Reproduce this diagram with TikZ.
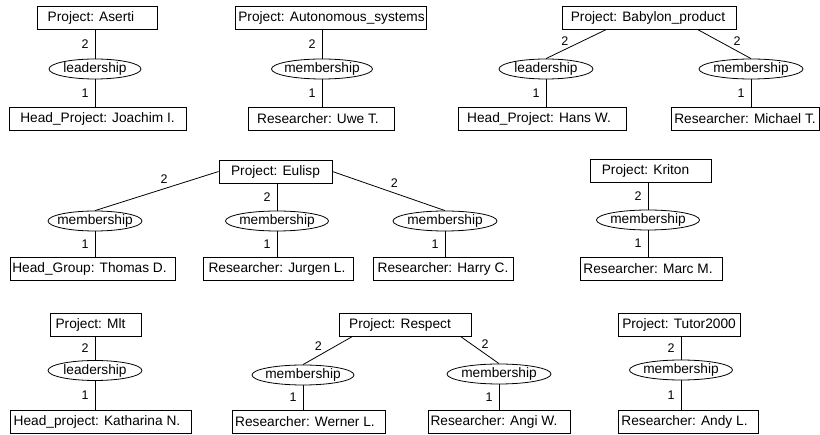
\documentclass[tikz,border=0pt]{standalone}
\usepackage{fontspec}
\setmainfont{Liberation Sans}
\usetikzlibrary{shapes.geometric}

\tikzset{
  ent/.style={draw, line width=0.8pt, minimum height=23pt, inner sep=0pt,
    font=\fontsize{13.7}{16}\selectfont},
  rel/.style={draw, ellipse, line width=0.8pt, minimum height=20pt, inner sep=0pt,
    font=\fontsize{13.7}{16}\selectfont},
  link/.style={line width=0.8pt},
  num/.style={inner sep=0pt, font=\fontsize{12.5}{14}\selectfont},
}
% entity box: name, centre, width, horizontal text offset, text
\newcommand{\entnode}[5]{\node[ent, minimum width=#3pt] (#1) at (#2) {\kern#4pt#5\kern-#4pt};}
% relationship ellipse: fixed size, text does not widen it
\newcommand{\relnode}[4]{\node[rel, minimum width=#4pt] (#1) at (#2) {\makebox[0pt]{#3}};}

\begin{document}
\begin{tikzpicture}[x=1pt, y=-1pt]
\useasboundingbox[fill=white] (0,0) rectangle (820,435);

% ---------- Aserti ----------
\entnode{pA}{97,17.5}{120}{-6}{Project: Aserti}
\relnode{eA}{95,69}{leadership}{92}
\entnode{hA}{97.5,119}{177}{0}{Head\_Project: Joachim I.}
\draw[link] (eA.north |- pA.south) -- node[num, left=6pt]{2} (eA.north);
\draw[link] (eA.south) -- node[num, left=6pt]{1} (eA.south |- hA.north);

% ---------- Autonomous_systems ----------
\entnode{pB}{330.5,17.5}{191}{1}{Project: Autonomous\_systems}
\relnode{eB}{322,69}{membership}{101}
\entnode{hB}{321,119}{146}{-3}{Researcher: Uwe T.}
\draw[link] (eB.north |- pB.south) -- node[num, left=6pt]{2} (eB.north);
\draw[link] (eB.south) -- node[num, left=6pt]{1} (eB.south |- hB.north);

% ---------- Babylon_product ----------
\entnode{pC}{649,17.5}{174}{-1}{Project: Babylon\_product}
\relnode{eC1}{546,69}{leadership}{94}
\entnode{hC1}{542,119}{168}{-3}{Head\_Project: Hans W.}
\relnode{eC2}{751,69}{membership}{104}
\entnode{hC2}{745,119}{148}{0}{Researcher: Michael T.}
\draw[link] ([xshift=45pt]pC.south west) -- node[num, pos=0.69, above=4pt]{2} (eC1.north);
\draw[link] ([xshift=-39pt]pC.south east) -- node[num, pos=0.74, above=5pt]{2} (eC2.north);
\draw[link] (eC1.south) -- node[num, left=6pt]{1} (eC1.south |- hC1.north);
\draw[link] (eC2.south) -- node[num, left=6pt]{1} (eC2.south |- hC2.north);

% ---------- Eulisp ----------
\entnode{pD}{275.5,171.5}{113}{0}{Project: Eulisp}
\relnode{eD1}{95,221}{membership}{94}
\entnode{hD1}{92.5,268.5}{165}{-3}{Head\_Group: Thomas D.}
\relnode{eD2}{277,221}{membership}{103}
\entnode{hD2}{278,268.5}{150}{-1}{Researcher: Jurgen L.}
\relnode{eD3}{445,221}{membership}{104}
\entnode{hD3}{443,268.5}{140}{0}{Researcher: Harry C.}
\draw[link] (pD.west) -- node[num, pos=0.44, above=5pt]{2} (eD1.north);
\draw[link] (eD2.north |- pD.south) -- node[num, left=6pt]{2} (eD2.north);
\draw[link] (pD.east) -- node[num, pos=0.55, above=5pt]{2} (eD3.north);
\draw[link] (eD1.south) -- node[num, left=6pt]{1} (eD1.south |- hD1.north);
\draw[link] (eD2.south) -- node[num, left=6pt]{1} (eD2.south |- hD2.north);
\draw[link] (eD3.south) -- node[num, left=6pt]{1} (eD3.south |- hD3.north);

% ---------- Kriton ----------
\entnode{pE}{650.5,171}{121}{-5}{Project: Kriton}
\relnode{eE}{648,220}{membership}{103}
\entnode{hE}{651,268.5}{142}{-3}{Researcher: Marc M.}
\draw[link] (eE.north |- pE.south) -- node[num, left=6pt]{2} (eE.north);
\draw[link] (eE.south) -- node[num, left=6pt]{1} (eE.south |- hE.north);

% ---------- Mlt ----------
\entnode{pF}{95.5,324.5}{91}{-5}{Project: Mlt}
\relnode{eF}{95,370.5}{leadership}{94}
\entnode{hF}{100.5,421.5}{181}{-3.5}{Head\_project: Katharina N.}
\draw[link] (eF.north |- pF.south) -- node[num, left=6pt]{2} (eF.north);
\draw[link] (eF.south) -- node[num, left=6pt]{1} (eF.south |- hF.north);

% ---------- Respect ----------
\entnode{pG}{405,324.5}{132}{-5}{Project: Respect}
\relnode{eG1}{303,375}{membership}{102}
\entnode{hG1}{308.5,421.5}{153}{-3.5}{Researcher: Werner L.}
\relnode{eG2}{499,374}{membership}{104}
\entnode{hG2}{499,421.5}{142}{-5}{Researcher: Angi W.}
\draw[link] ([xshift=14pt]pG.south west) -- node[num, pos=0.69, above=5pt]{2} (eG1.north);
\draw[link] ([xshift=-11pt]pG.south east) -- node[num, pos=0.64, above=5pt]{2} (eG2.north);
\draw[link] (eG1.south) -- node[num, left=6pt]{1} (eG1.south |- hG1.north);
\draw[link] (eG2.south) -- node[num, left=6pt]{1} (eG2.south |- hG2.north);

% ---------- Tutor2000 ----------
\entnode{pH}{679,324.5}{122}{0}{Project: Tutor2000}
\relnode{eH}{681,370}{membership}{103}
\entnode{hH}{688,421.5}{140}{-3.5}{Researcher: Andy L.}
\draw[link] (eH.north |- pH.south) -- node[num, left=6pt]{2} (eH.north);
\draw[link] (eH.south) -- node[num, left=6pt]{1} (eH.south |- hH.north);
\end{tikzpicture}
\end{document}
